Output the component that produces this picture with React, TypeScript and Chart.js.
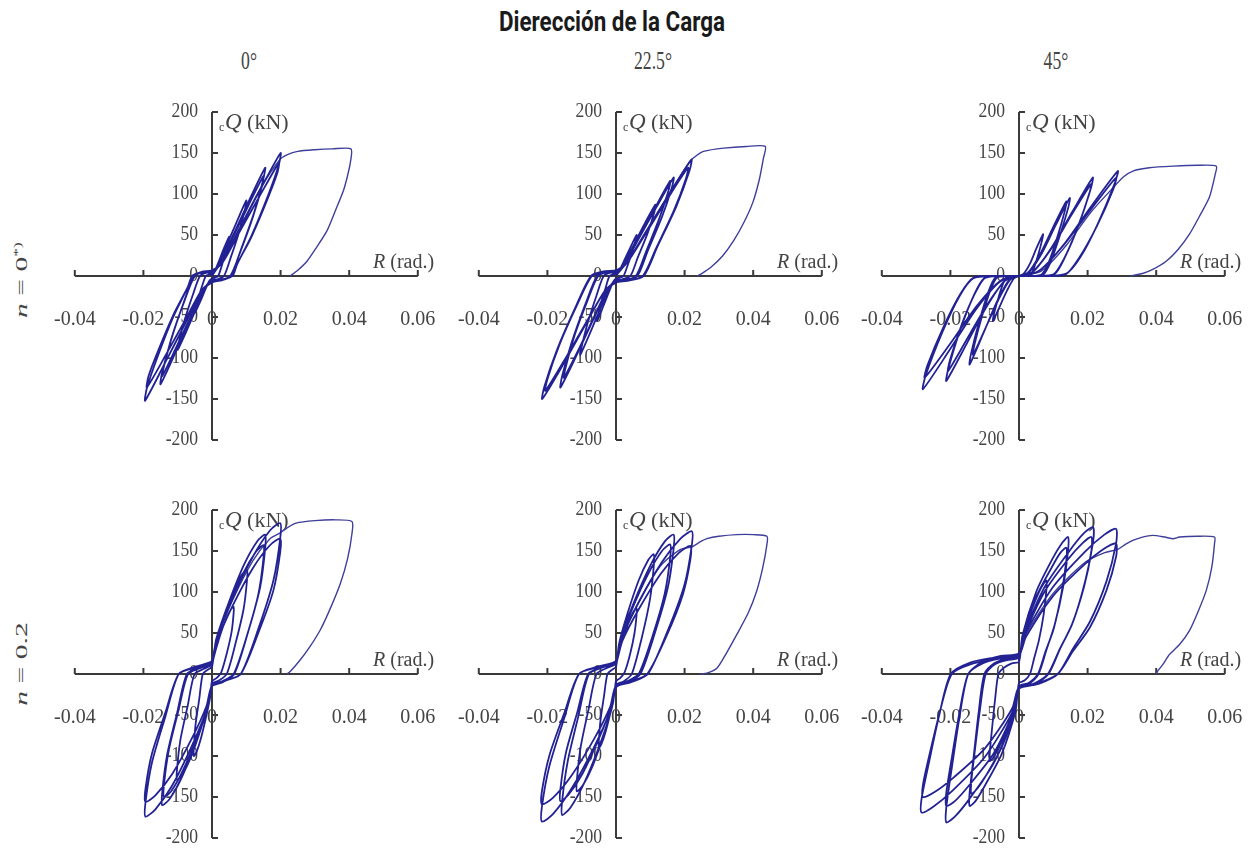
import React, { useEffect, useRef } from 'react';
import { Chart, registerables } from 'chart.js';

Chart.register(...registerables);

type Pt = [number, number];

// ---------- axes / text ----------
const X_MIN = -0.04;
const X_MAX = 0.06;
const Y_MIN = -200;
const Y_MAX = 200;
const X_TICKS = [-0.04, -0.02, 0, 0.02, 0.04, 0.06];
const X_TICK_LABELS = ['-0.04', '-0.02', '0', '0.02', '0.04', '0.06'];
const Y_TICKS = [200, 150, 100, 50, 0, -50, -100, -150, -200];
const Y_TICK_LABELS = ['200', '150', '100', '50', '0', '-50', '-100', '-150', '-200'];
const MAIN_TITLE = 'Dierección de la Carga';
const COLUMN_TITLES = ['0°', '22.5°', '45°'];
const ROW_VALUES = ['0', '0.2'];
const ROW_MARKS = ['*)', ''];

// ---------- data: R (rad.), Q (kN) ----------
// n = 0, 0°
const cyc_n0_d0: Pt[] = [
  [0,0],[0.0008,6],[0.002,18],[0.0035,34],[0.005,48],[0.0049,43],[0.004,29],[0.0028,12],[0.0018,0],[0.0008,-2],
  [0,-3],[-0.0008,-6],[-0.002,-17],[-0.0035,-32],[-0.005,-45],[-0.0049,-40],[-0.004,-27],[-0.0028,-11],[-0.0018,0],[-0.0008,2],[0,2],
  [0.0015,11],[0.004,35],[0.007,64],[0.01,92],[0.0097,83],[0.008,55],[0.0055,23],[0.0035,0],[0.0015,-4],
  [0,-5],[-0.0015,-11],[-0.004,-34],[-0.007,-63],[-0.01,-90],[-0.0097,-81],[-0.008,-54],[-0.0055,-22],[-0.0035,0],[-0.0015,4],[0,4],
  [0.0023,16],[0.0062,50],[0.0108,92],[0.0155,132],[0.015,119],[0.0124,79],[0.0085,33],[0.0054,0],[0.0023,-5],
  [0,-7],[-0.0023,-16],[-0.006,-50],[-0.0105,-92],[-0.015,-132],[-0.0146,-119],[-0.012,-79],[-0.0083,-33],[-0.0052,0],[-0.0023,5],[0,6],
  [0.0023,14],[0.006,46],[0.0105,85],[0.015,122],[0.0146,110],[0.012,73],[0.0083,30],[0.0053,0],[0.0023,-5],
  [0,-6],[-0.0022,-15],[-0.0058,-46],[-0.0102,-85],[-0.0145,-122],[-0.014,-110],[-0.0116,-73],[-0.008,-30],[-0.005,0],[-0.0022,5],[0,5],
  [0.003,18],[0.008,57],[0.014,105],[0.02,150],[0.0195,136],[0.0165,100],[0.0116,50],[0.0073,14],[0.006,0],[0.003,-5],
  [0,-8],[-0.003,-19],[-0.0078,-58],[-0.0137,-106],[-0.0195,-152],[-0.019,-137],[-0.016,-100],[-0.0113,-50],[-0.0071,-14],[-0.0058,0],[-0.003,5],[0,7],
  [0.003,16],[0.0078,52],[0.0137,96],[0.0195,138],[0.019,125],[0.016,92],[0.0113,46],[0.0071,13],[0.0058,0],[0.003,-5],
  [0,-7],[-0.003,-17],[-0.0076,-52],[-0.0133,-95],[-0.019,-136],[-0.0185,-122],[-0.0156,-90],[-0.011,-45],[-0.007,-13],[-0.0057,0],[-0.003,4],[0,5],
];
const fin_n0_d0: Pt[] = [
  [0,0],[0.003,18],[0.008,58],[0.014,106],[0.0198,142],[0.022,148],[0.025,152],[0.03,154],[0.035,155],[0.0405,155],
  [0.0404,140],[0.0395,122],[0.0383,104],[0.036,80],[0.0335,55],[0.0305,35],[0.0277,18],[0.025,7],[0.0228,0],
];

// n = 0, 22.5°
const cyc_n0_d22: Pt[] = [
  [0,0],[0.0009,6],[0.0024,19],[0.0042,35],[0.006,50],[0.0058,45],[0.0048,30],[0.0033,12],[0.0022,0],[0.001,-2],
  [0,-3],[-0.0008,-7],[-0.0022,-21],[-0.0039,-39],[-0.0055,-55],[-0.0053,-50],[-0.0044,-33],[-0.003,-14],[-0.0019,0],[-0.0008,2],[0,2],
  [0.0017,10],[0.0046,33],[0.008,61],[0.0115,87],[0.0112,78],[0.0092,52],[0.0063,22],[0.0042,0],[0.0017,-4],
  [0,-5],[-0.0016,-12],[-0.0042,-36],[-0.0073,-67],[-0.0104,-96],[-0.01,-86],[-0.0083,-58],[-0.0057,-24],[-0.0036,0],[-0.0016,4],[0,4],
  [0.0025,14],[0.0067,46],[0.0118,84],[0.0168,120],[0.0163,108],[0.0134,72],[0.0092,30],[0.0062,0],[0.0025,-5],
  [0,-7],[-0.0024,-16],[-0.0065,-52],[-0.0113,-95],[-0.0162,-136],[-0.0157,-122],[-0.013,-82],[-0.0089,-34],[-0.0055,0],[-0.0024,5],[0,6],
  [0.0024,14],[0.0063,44],[0.0111,81],[0.0158,116],[0.0153,104],[0.0126,70],[0.0087,29],[0.0058,0],[0.0024,-5],
  [0,-6],[-0.0023,-15],[-0.0061,-47],[-0.0106,-87],[-0.0152,-124],[-0.0147,-112],[-0.0122,-74],[-0.0084,-31],[-0.0052,0],[-0.0023,5],[0,5],
  [0.0033,17],[0.0088,54],[0.0154,99],[0.022,142],[0.0214,128],[0.0176,85],[0.0121,36],[0.0081,0],[0.0033,-6],
  [0,-8],[-0.0032,-18],[-0.0086,-57],[-0.015,-105],[-0.0215,-150],[-0.0209,-135],[-0.0172,-90],[-0.0118,-38],[-0.0073,0],[-0.0032,6],[0,7],
  [0.0032,16],[0.0084,50],[0.0147,92],[0.021,132],[0.0204,119],[0.0168,79],[0.0116,33],[0.0078,0],[0.0032,-5],
  [0,-7],[-0.0031,-17],[-0.0082,-53],[-0.0144,-98],[-0.0206,-140],[-0.02,-126],[-0.0165,-84],[-0.0113,-35],[-0.007,0],[-0.0031,5],[0,6],
];
const fin_n0_d22: Pt[] = [
  [0,0],[0.0033,17],[0.0088,55],[0.0154,100],[0.0216,140],[0.0235,147],[0.0255,152],[0.0314,156],[0.038,158],[0.0435,158],
  [0.043,144],[0.0418,118],[0.04,91],[0.0375,67],[0.0343,43],[0.031,24],[0.0275,10],[0.025,3],[0.0236,0],
];

// n = 0, 45°
const cyc_n0_d45: Pt[] = [
  [0,0],[0.0014,3],[0.0032,15],[0.005,33],[0.007,51],[0.0068,45],[0.0056,26],[0.0043,9],[0.0034,1],[0.0018,0],
  [0,0],[-0.0015,-3],[-0.0034,-17],[-0.0055,-36],[-0.0076,-55],[-0.0074,-48],[-0.0061,-28],[-0.0047,-10],[-0.0036,-1],[-0.0019,0],[0,0],
  [0.003,5],[0.0067,28],[0.0107,62],[0.0148,95],[0.0144,84],[0.0118,48],[0.0092,17],[0.0071,2],[0.0037,0],
  [0,0],[-0.0029,-5],[-0.0065,-32],[-0.0104,-70],[-0.0144,-108],[-0.014,-95],[-0.0115,-54],[-0.0089,-19],[-0.0069,-2],[-0.0036,0],[0,0],
  [0.0028,5],[0.0062,27],[0.0099,59],[0.0138,91],[0.0134,80],[0.011,45],[0.0086,16],[0.0066,2],[0.0035,0],
  [0,0],[-0.0027,-5],[-0.006,-29],[-0.0096,-62],[-0.0134,-96],[-0.013,-84],[-0.0107,-48],[-0.0083,-17],[-0.0064,-2],[-0.0034,0],[0,0],
  [0.0043,6],[0.0097,36],[0.0155,78],[0.0215,120],[0.0209,106],[0.0172,60],[0.0133,22],[0.0103,2],[0.0054,0],
  [0,0],[-0.0042,-6],[-0.0095,-38],[-0.0153,-83],[-0.0212,-128],[-0.0206,-113],[-0.017,-64],[-0.0131,-23],[-0.0102,-3],[-0.0053,0],[0,0],
  [0.0042,6],[0.0095,34],[0.0151,73],[0.021,112],[0.0204,99],[0.0168,56],[0.013,20],[0.0101,2],[0.0053,0],
  [0,0],[-0.0041,-6],[-0.0093,-35],[-0.0149,-75],[-0.0207,-116],[-0.0201,-102],[-0.0166,-58],[-0.0128,-21],[-0.0099,-2],[-0.0052,0],[0,0],
  [0.0058,6],[0.013,38],[0.0207,83],[0.0288,128],[0.0279,113],[0.023,64],[0.0179,23],[0.0138,3],[0.0072,0],
  [0,0],[-0.0056,-7],[-0.0126,-41],[-0.0202,-90],[-0.028,-138],[-0.0272,-121],[-0.0224,-69],[-0.0174,-25],[-0.0134,-3],[-0.007,0],[0,0],
  [0.0057,6],[0.0127,36],[0.0204,78],[0.0283,120],[0.0275,106],[0.0226,60],[0.0175,22],[0.0136,2],[0.0071,0],
  [0,0],[-0.0055,-6],[-0.0124,-37],[-0.0198,-81],[-0.0275,-124],[-0.0267,-109],[-0.022,-62],[-0.0171,-22],[-0.0132,-2],[-0.0069,0],[0,0],
];
const fin_n0_d45: Pt[] = [
  [0,0],[0.0065,6],[0.0135,36],[0.021,78],[0.0275,108],[0.0305,121],[0.0332,128],[0.038,132],[0.045,134],[0.052,135],[0.0575,134],
  [0.0572,124],[0.0555,96],[0.0525,72],[0.0497,51],[0.0465,33],[0.0429,18],[0.039,8],[0.036,3],[0.0322,0],
];

// n = 0.2, 0°
const cyc_n2_d0: Pt[] = [
  [0,8],[0.0005,20],[0.0019,41],[0.0038,64],[0.0054,78],[0.0063,82],[0.0063,74],[0.0057,51],[0.0043,25],[0.0027,2],[0.0013,-5],
  [0,-9],[-0.0004,-25],[-0.0016,-50],[-0.0032,-78],[-0.0045,-95],[-0.0053,-100],[-0.0053,-90],[-0.0048,-62],[-0.0037,-30],[-0.0027,0],[-0.0013,5],[0,9],
  [0.0008,32],[0.0031,64],[0.0061,99],[0.0087,121],[0.0102,127],[0.0102,114],[0.0092,79],[0.0069,38],[0.0043,0],[0.002,-8],
  [0,-12],[-0.0008,-32],[-0.0031,-65],[-0.0061,-101],[-0.0087,-123],[-0.0102,-129],[-0.0102,-116],[-0.0092,-80],[-0.0071,-39],[-0.0051,0],[-0.0025,6],[0,12],
  [0.0012,42],[0.0047,85],[0.0093,133],[0.0132,162],[0.0155,170],[0.0155,153],[0.014,105],[0.0105,51],[0.0065,0],[0.0031,-10],
  [0,-15],[-0.0012,-40],[-0.0044,-80],[-0.0087,-125],[-0.0123,-152],[-0.0145,-160],[-0.0145,-144],[-0.0131,-99],[-0.0102,-48],[-0.0073,0],[-0.0036,8],[0,15],
  [0.0012,39],[0.0045,79],[0.009,122],[0.0128,149],[0.015,157],[0.015,141],[0.0135,97],[0.0102,47],[0.0063,0],[0.003,-9],
  [0,-14],[-0.0011,-38],[-0.0042,-75],[-0.0084,-117],[-0.0119,-143],[-0.014,-150],[-0.014,-135],[-0.0126,-93],[-0.0098,-45],[-0.007,0],[-0.0035,7],[0,14],
  [0.0016,46],[0.006,92],[0.0119,143],[0.0169,175],[0.0199,184],[0.0199,166],[0.0179,114],[0.0135,55],[0.0084,0],[0.004,-8],
  [0,-15],[-0.0016,-44],[-0.0058,-87],[-0.0116,-136],[-0.0165,-165],[-0.0194,-174],[-0.0194,-157],[-0.0175,-108],[-0.0136,-52],[-0.0097,0],[-0.0048,9],[0,16],
  [0.0016,41],[0.006,83],[0.0119,129],[0.0169,157],[0.0199,165],[0.0199,149],[0.0179,102],[0.0135,50],[0.0084,0],[0.004,-8],
  [0,-14],[-0.0016,-39],[-0.0058,-78],[-0.0116,-122],[-0.0165,-148],[-0.0194,-156],[-0.0194,-140],[-0.0175,-97],[-0.0136,-47],[-0.0097,0],[-0.0048,8],[0,15],
];
const fin_n2_d0: Pt[] = [
  [0,15],[0.0016,44],[0.006,90],[0.0119,138],[0.0169,165],[0.0199,172],[0.0218,178],[0.0245,184],[0.03,187],[0.036,188],[0.0408,186],
  [0.0408,171],[0.0395,140],[0.0374,110],[0.0345,80],[0.0316,54],[0.0285,33],[0.0257,17],[0.0228,3],[0.0218,0],
];

// n = 0.2, 22.5°
const cyc_n2_d22: Pt[] = [
  [0,8],[0.0005,20],[0.0018,40],[0.0036,62],[0.0051,76],[0.006,80],[0.006,72],[0.0054,50],[0.0041,24],[0.0025,2],[0.0012,-5],
  [0,-9],[-0.0004,-23],[-0.0015,-45],[-0.003,-70],[-0.0043,-86],[-0.005,-90],[-0.005,-81],[-0.0045,-56],[-0.0035,-27],[-0.0025,0],[-0.0012,5],[0,9],
  [0.0009,37],[0.0033,73],[0.0066,114],[0.0094,139],[0.011,146],[0.011,131],[0.0099,91],[0.0075,44],[0.0046,0],[0.0022,-9],
  [0,-13],[-0.0009,-36],[-0.0034,-72],[-0.0068,-112],[-0.0097,-136],[-0.0114,-143],[-0.0114,-129],[-0.0103,-89],[-0.008,-43],[-0.0057,0],[-0.0028,7],[0,13],
  [0.0013,42],[0.005,85],[0.0101,133],[0.0143,162],[0.0168,170],[0.0168,153],[0.0151,105],[0.0114,51],[0.0071,0],[0.0034,-10],
  [0,-15],[-0.0013,-43],[-0.0047,-86],[-0.0094,-134],[-0.0133,-163],[-0.0157,-172],[-0.0157,-155],[-0.0141,-107],[-0.011,-52],[-0.0079,0],[-0.0039,8],[0,15],
  [0.0013,40],[0.0047,79],[0.0095,123],[0.0134,150],[0.0158,158],[0.0158,142],[0.0142,98],[0.0107,47],[0.0066,0],[0.0032,-9],
  [0,-14],[-0.0013,-39],[-0.0049,-78],[-0.0097,-121],[-0.0138,-147],[-0.0162,-155],[-0.0162,-140],[-0.0146,-96],[-0.0113,-47],[-0.0081,0],[-0.004,8],[0,14],
  [0.0018,44],[0.0066,87],[0.0133,136],[0.0188,165],[0.0221,174],[0.0221,157],[0.0199,108],[0.015,52],[0.0093,0],[0.0044,-10],
  [0,-16],[-0.0017,-45],[-0.0065,-90],[-0.013,-140],[-0.0184,-171],[-0.0216,-180],[-0.0216,-162],[-0.0194,-112],[-0.0151,-54],[-0.0108,0],[-0.0054,9],[0,16],
  [0.0017,39],[0.0065,78],[0.013,122],[0.0184,148],[0.0217,156],[0.0217,140],[0.0195,97],[0.0148,47],[0.0091,0],[0.0043,-9],
  [0,-14],[-0.0017,-40],[-0.0065,-80],[-0.013,-124],[-0.0184,-151],[-0.0216,-159],[-0.0216,-143],[-0.0194,-99],[-0.0151,-48],[-0.0108,0],[-0.0054,8],[0,14],
];
const fin_n2_d22: Pt[] = [
  [0,14],[0.0018,44],[0.0066,88],[0.013,132],[0.0188,152],[0.0221,155],[0.0245,161],[0.0265,165],[0.03,168],[0.0352,170],[0.04,170],[0.044,168],
  [0.044,158],[0.0428,130],[0.041,101],[0.0385,74],[0.0352,48],[0.032,24],[0.0294,7],[0.0265,1],[0.0246,0],
];

// n = 0.2, 45°
const cyc_n2_d45: Pt[] = [
  [0,15],[0.0006,32],[0.0028,68],[0.0054,96],[0.007,109],[0.008,114],[0.008,103],[0.0072,73],[0.0058,41],[0.0044,19],[0.0032,0],[0.0016,-8],
  [0,-11],[-0.0006,-30],[-0.003,-64],[-0.0058,-89],[-0.0075,-102],[-0.0085,-106],[-0.0085,-95],[-0.0078,-64],[-0.007,-32],[-0.006,0],[-0.0043,8],[-0.0021,13],[0,15],
  [0.001,47],[0.005,100],[0.0097,140],[0.0126,160],[0.0143,167],[0.0143,150],[0.0129,107],[0.0104,60],[0.0079,28],[0.0057,0],[0.0029,-12],
  [0,-17],[-0.001,-45],[-0.005,-97],[-0.0098,-135],[-0.0127,-155],[-0.0144,-161],[-0.0144,-145],[-0.0132,-100],[-0.0118,-48],[-0.0101,0],[-0.0072,13],[-0.0036,19],[0,22],
  [0.001,43],[0.0048,92],[0.0094,129],[0.0121,148],[0.0138,154],[0.0138,139],[0.0124,99],[0.0101,55],[0.0076,26],[0.0055,0],[0.0028,-11],
  [0,-15],[-0.001,-41],[-0.0049,-88],[-0.0095,-123],[-0.0122,-140],[-0.0139,-146],[-0.0139,-131],[-0.0128,-91],[-0.0114,-44],[-0.0097,0],[-0.007,12],[-0.0035,17],[0,20],
  [0.0015,50],[0.0076,107],[0.0147,150],[0.019,172],[0.0216,179],[0.0216,161],[0.0194,115],[0.0158,64],[0.0119,30],[0.0086,0],[0.0043,-13],
  [0,-18],[-0.0015,-51],[-0.0074,-109],[-0.0144,-152],[-0.0187,-174],[-0.0212,-181],[-0.0212,-163],[-0.0195,-112],[-0.0174,-54],[-0.0148,0],[-0.0106,15],[-0.0053,22],[0,25],
  [0.0015,47],[0.0074,100],[0.0143,140],[0.0186,160],[0.0211,167],[0.0211,150],[0.019,107],[0.0154,60],[0.0116,28],[0.0084,0],[0.0042,-12],
  [0,-17],[-0.0015,-45],[-0.0074,-97],[-0.0144,-135],[-0.0187,-155],[-0.0212,-161],[-0.0212,-145],[-0.0195,-100],[-0.0174,-48],[-0.0148,0],[-0.0106,13],[-0.0053,19],[0,22],
  [0.002,50],[0.0099,106],[0.0192,149],[0.0249,170],[0.0283,177],[0.0283,159],[0.0255,113],[0.0207,64],[0.0156,30],[0.0113,0],[0.0057,-12],
  [0,-18],[-0.002,-47],[-0.0099,-101],[-0.0193,-142],[-0.025,-162],[-0.0284,-169],[-0.0284,-152],[-0.0261,-105],[-0.0233,-51],[-0.0199,0],[-0.0142,14],[-0.0071,20],[0,24],
  [0.002,45],[0.0099,95],[0.0192,134],[0.0249,153],[0.0283,159],[0.0283,143],[0.0255,102],[0.0207,57],[0.0156,27],[0.0113,0],[0.0057,-11],
  [0,-16],[-0.002,-42],[-0.0098,-90],[-0.019,-126],[-0.0246,-144],[-0.028,-150],[-0.028,-135],[-0.0258,-93],[-0.023,-45],[-0.0196,0],[-0.014,12],[-0.007,18],[0,22],
];
const fin_n2_d45: Pt[] = [
  [0,22],[0.002,48],[0.0099,98],[0.0192,136],[0.025,148],[0.0288,152],[0.031,158],[0.0332,163],[0.036,167],[0.039,169],[0.0425,167],[0.0449,165],[0.0468,167],[0.052,168],[0.057,167],
  [0.057,159],[0.0562,130],[0.0546,102],[0.0522,76],[0.0497,53],[0.0468,36],[0.0439,24],[0.042,12],[0.0405,4],[0.04,0],
];

const PANELS = [
  { row: 0, col: 0, cycles: cyc_n0_d0, final: fin_n0_d0 },
  { row: 0, col: 1, cycles: cyc_n0_d22, final: fin_n0_d22 },
  { row: 0, col: 2, cycles: cyc_n0_d45, final: fin_n0_d45 },
  { row: 1, col: 0, cycles: cyc_n2_d0, final: fin_n2_d0 },
  { row: 1, col: 1, cycles: cyc_n2_d22, final: fin_n2_d22 },
  { row: 1, col: 2, cycles: cyc_n2_d45, final: fin_n2_d45 },
];

// ---------- layout / style ----------
const COL_X0 = [211.7, 615.7, 1019.3];
const ROW_Y0 = [275.5, 673.5];
const CANVAS_W = 440;
const CANVAS_H = 400;
const AREA_W = 343;
const AREA_H = 328;
const PAD_LEFT = 200 - AREA_W * 0.4;
const PAD_TOP = 200 - AREA_H / 2;
const AXIS_COLOR = '#3a3a3a';
const TEXT_COLOR = '#444';
const CYCLE_COLOR = 'rgb(34,34,148)';
const FINAL_COLOR = 'rgb(62,62,155)';
const SERIF = '"Liberation Serif", "DejaVu Serif", serif';

const crossAxes = {
  id: 'crossAxes',
  beforeDatasetsDraw(chart: any) {
    const { ctx } = chart;
    const xs = chart.scales.x;
    const ys = chart.scales.y;
    const x0 = xs.getPixelForValue(0);
    const y0 = ys.getPixelForValue(0);
    ctx.save();
    ctx.strokeStyle = AXIS_COLOR;
    ctx.lineWidth = 2;
    ctx.lineCap = 'butt';
    ctx.beginPath();
    ctx.moveTo(xs.getPixelForValue(X_MIN), y0);
    ctx.lineTo(xs.getPixelForValue(X_MAX), y0);
    X_TICKS.forEach((v) => {
      const px = xs.getPixelForValue(v);
      ctx.moveTo(px, y0);
      ctx.lineTo(px, y0 - 6);
    });
    ctx.moveTo(x0, ys.getPixelForValue(Y_MAX));
    ctx.lineTo(x0, ys.getPixelForValue(Y_MIN));
    Y_TICKS.forEach((v) => {
      const py = ys.getPixelForValue(v);
      ctx.moveTo(x0, py);
      ctx.lineTo(x0 + 6, py);
    });
    ctx.stroke();

    ctx.fillStyle = TEXT_COLOR;
    ctx.font = `20px ${SERIF}`;
    ctx.textAlign = 'center';
    ctx.textBaseline = 'middle';
    X_TICKS.forEach((v, i) => {
      ctx.fillText(X_TICK_LABELS[i], xs.getPixelForValue(v), y0 + 44);
    });
    ctx.textAlign = 'right';
    Y_TICKS.forEach((v, i) => {
      ctx.save();
      ctx.translate(x0 - 14, ys.getPixelForValue(v));
      ctx.scale(0.88, 1);
      ctx.fillText(Y_TICK_LABELS[i], 0, 0);
      ctx.restore();
    });

    // y axis title: cQ (kN)
    const yt = ys.getPixelForValue(Y_MAX) + 11;
    ctx.textAlign = 'left';
    ctx.font = `12px ${SERIF}`;
    ctx.fillText('c', x0 + 7, yt + 5);
    ctx.font = `italic 23px ${SERIF}`;
    ctx.fillText('Q', x0 + 13, yt);
    const qW = ctx.measureText('Q').width;
    ctx.font = `22px ${SERIF}`;
    ctx.fillText(' (kN)', x0 + 13 + qW, yt);

    // x axis title: R (rad.)
    const rx = x0 + 161;
    const ry = y0 - 13;
    ctx.font = `italic 20px ${SERIF}`;
    ctx.fillText('R', rx, ry);
    const rW = ctx.measureText('R').width;
    ctx.font = `20px ${SERIF}`;
    ctx.fillText(' (rad.)', rx + rW, ry);
    ctx.restore();
  },
};

function Panel({ cycles, final, left, top }: { cycles: Pt[]; final: Pt[]; left: number; top: number }) {
  const ref = useRef<HTMLCanvasElement>(null);
  useEffect(() => {
    const chart = new Chart(ref.current as HTMLCanvasElement, {
      type: 'scatter',
      data: {
        datasets: [
          {
            data: cycles.map(([x, y]) => ({ x, y })),
            showLine: true,
            borderColor: CYCLE_COLOR,
            borderWidth: 1.8,
            pointRadius: 0,
            tension: 0.25,
            fill: false,
          },
          {
            data: final.map(([x, y]) => ({ x, y })),
            showLine: true,
            borderColor: FINAL_COLOR,
            borderWidth: 1.4,
            pointRadius: 0,
            tension: 0.25,
            fill: false,
          },
        ],
      },
      options: {
        responsive: false,
        animation: false,
        events: [],
        layout: {
          padding: {
            left: PAD_LEFT,
            right: CANVAS_W - PAD_LEFT - AREA_W,
            top: PAD_TOP,
            bottom: CANVAS_H - PAD_TOP - AREA_H,
          },
        },
        plugins: { legend: { display: false }, tooltip: { enabled: false }, title: { display: false } },
        scales: {
          x: { type: 'linear', min: X_MIN, max: X_MAX, display: false },
          y: { type: 'linear', min: Y_MIN, max: Y_MAX, display: false },
        },
      },
      plugins: [crossAxes],
    } as any);
    return () => chart.destroy();
  }, [cycles, final]);
  return (
    <canvas
      ref={ref}
      width={CANVAS_W}
      height={CANVAS_H}
      style={{ position: 'absolute', left, top, width: CANVAS_W, height: CANVAS_H }}
    />
  );
}

export default function App() {
  return (
    <div style={{ position: 'absolute', left: 0, top: 0, width: 1256, height: 854, background: '#fff', overflow: 'hidden' }}>
      <div
        style={{
          position: 'absolute',
          left: 612,
          top: 22,
          transform: 'translate(-50%, -50%) scaleX(0.83)',
          font: '700 27px Roboto, "Liberation Sans", sans-serif',
          color: '#1a1a1a',
          whiteSpace: 'nowrap',
        }}
      >
        {MAIN_TITLE}
      </div>
      {COLUMN_TITLES.map((t, i) => (
        <div
          key={t}
          style={{
            position: 'absolute',
            left: COL_X0[i] + 37,
            top: 61,
            transform: 'translate(-50%, -50%) scaleX(0.68)',
            font: `26px ${SERIF}`,
            color: TEXT_COLOR,
            whiteSpace: 'nowrap',
          }}
        >
          {t}
        </div>
      ))}
      {ROW_VALUES.map((v, i) => (
        <div
          key={v}
          style={{
            position: 'absolute',
            left: 22,
            top: ROW_Y0[i] + (i === 0 ? 4 : -10),
            transform: 'translate(-50%, -50%) rotate(-90deg) scale(1.35, 0.75)',
            font: `22px ${SERIF}`,
            color: TEXT_COLOR,
            whiteSpace: 'nowrap',
          }}
        >
          <i>n</i> = {v}
          {ROW_MARKS[i] ? <sup style={{ fontSize: 13 }}>{ROW_MARKS[i]}</sup> : null}
        </div>
      ))}
      {PANELS.map((p) => (
        <Panel
          key={`${p.row}-${p.col}`}
          cycles={p.cycles}
          final={p.final}
          left={COL_X0[p.col] - 200}
          top={ROW_Y0[p.row] - 200}
        />
      ))}
    </div>
  );
}
